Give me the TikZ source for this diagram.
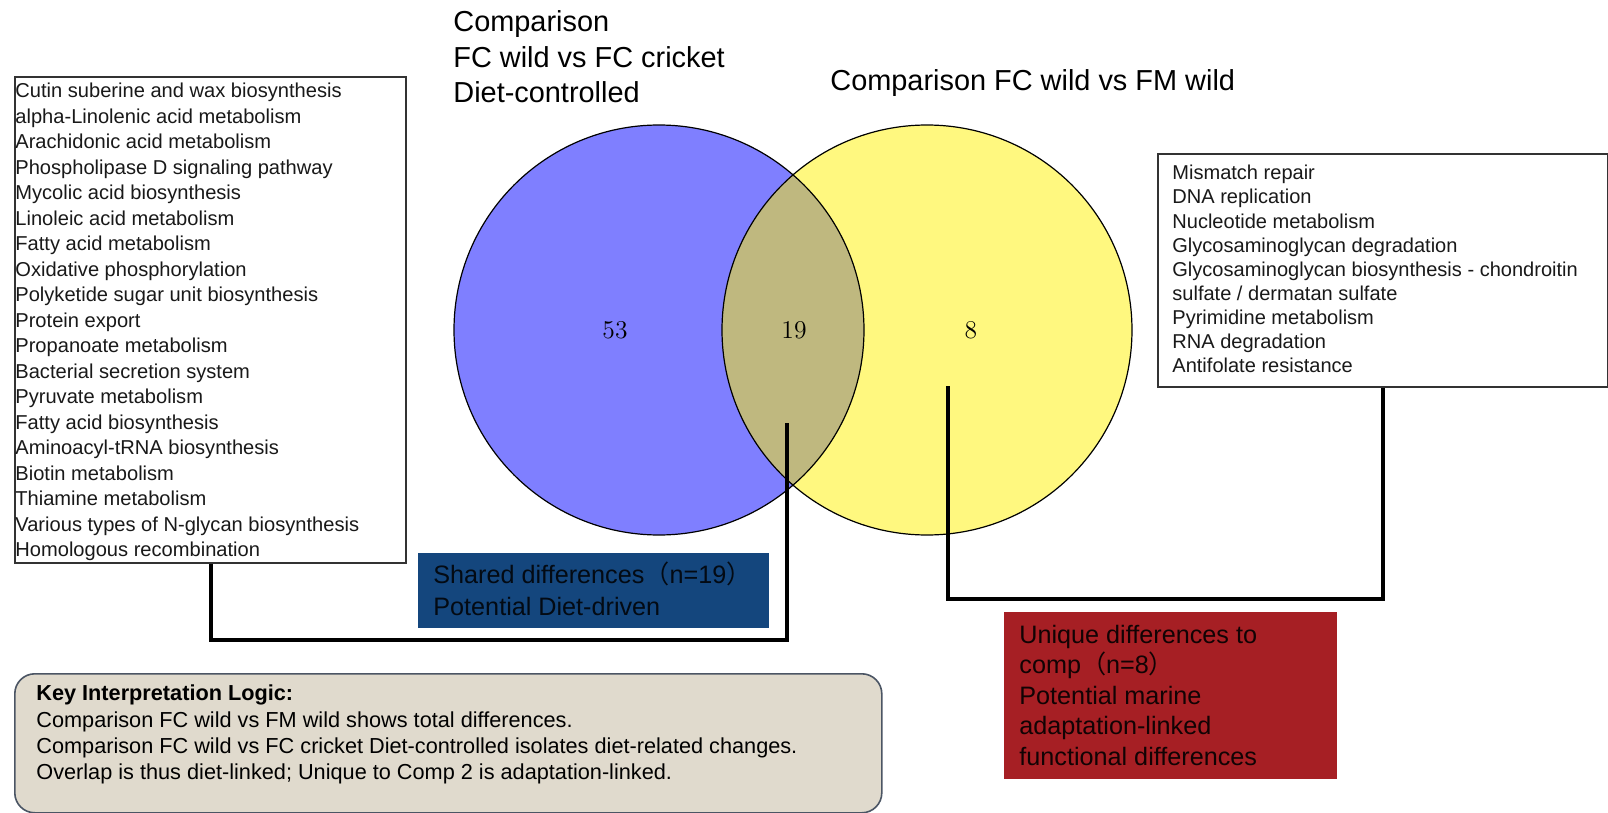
\documentclass[tikz,border=0pt]{standalone}
\usepackage{fontspec}
\newfontfamily\arial{Liberation Sans}
\newfontfamily\cjkfont{Noto Sans CJK SC}
\definecolor{sharedfill}{RGB}{20,70,125}
\definecolor{uniquefill}{RGB}{166,31,36}
\definecolor{keyfill}{RGB}{224,218,205}
\definecolor{keydraw}{RGB}{75,85,100}
\newcommand{\lp}{{\cjkfont （}}
\newcommand{\rp}{{\cjkfont ）}}
\begin{document}
\begin{tikzpicture}[x=0.5pt,y=-0.5pt,
  txt/.style={anchor=north west, inner sep=0pt, align=left},
  listbox/.style={draw=black!80, line width=1pt, fill=white, anchor=north west, inner sep=0pt},
  tagbox/.style={anchor=north west, inner sep=0pt},
  conn/.style={line width=2pt, line join=miter},
  vennline/.style={draw=black, line width=0.6pt},
  numlabel/.style={font=\fontsize{12.8pt}{14pt}\selectfont, inner sep=0pt}
]
\useasboundingbox (0,0) rectangle (1608,813);

% Venn sets
\node[circle, minimum size=205pt, inner sep=0pt, fill=blue, fill opacity=0.5] (setA) at (659,330) {};
\node[circle, minimum size=205pt, inner sep=0pt, fill=yellow, fill opacity=0.5] (setB) at (927,330) {};
\draw[vennline] (setA.center) circle[radius=102.5pt];
\draw[vennline] (setB.center) circle[radius=102.5pt];
\node[numlabel] (n53) at (615,330) {53};
\node[numlabel] (n19) at (794,330) {19};
\node[numlabel] (n8) at (971,330) {8};

% titles
\node[txt, font=\arial\fontsize{14.45pt}{17.6pt}\selectfont] (titleA) at (453,2.6)
  {\rule{0pt}{1em}Comparison\\FC wild vs FC cricket\\Diet-controlled};
\node[anchor=base west, inner sep=0pt, font=\arial\fontsize{14.45pt}{17.6pt}\selectfont] (titleB) at (830,90.5)
  {Comparison FC wild vs FM wild};

% left list
\node[listbox, minimum width=195.5pt, minimum height=243pt] (lbox) at (14,76) {};
\node[txt, font=\arial\fontsize{10.05pt}{12.75pt}\selectfont, text=black!90] (ltext) at (15,77.2)
  {\rule{0pt}{1em}Cutin suberine and wax biosynthesis\\
   alpha-Linolenic acid metabolism\\
   Arachidonic acid metabolism\\
   Phospholipase D signaling pathway\\
   Mycolic acid biosynthesis\\
   Linoleic acid metabolism\\
   Fatty acid metabolism\\
   Oxidative phosphorylation\\
   Polyketide sugar unit biosynthesis\\
   Protein export\\
   Propanoate metabolism\\
   Bacterial secretion system\\
   Pyruvate metabolism\\
   Fatty acid biosynthesis\\
   Aminoacyl-tRNA biosynthesis\\
   Biotin metabolism\\
   Thiamine metabolism\\
   Various types of N-glycan biosynthesis\\
   Homologous recombination};

% right list
\node[listbox, minimum width=225pt, minimum height=116.5pt] (rbox) at (1157,153) {};
\node[txt, font=\arial\fontsize{10.02pt}{12.05pt}\selectfont, text=black!90] (rtext) at (1172,159.4)
  {\rule{0pt}{1em}Mismatch repair\\
   DNA replication\\
   Nucleotide metabolism\\
   Glycosaminoglycan degradation\\
   Glycosaminoglycan biosynthesis - chondroitin\\
   sulfate / dermatan sulfate\\
   Pyrimidine metabolism\\
   RNA degradation\\
   Antifolate resistance};

% shared box
\node[tagbox, fill=sharedfill, minimum width=175.5pt, minimum height=37.5pt] (sbox) at (418,553) {};
\node[txt, font=\arial\fontsize{12.6pt}{16pt}\selectfont, text=black!85!sharedfill] (stext) at (433,558)
  {\rule{0pt}{1em}Shared differences\lp n=19\rp\\Potential Diet-driven};

% unique box
\node[tagbox, fill=uniquefill, minimum width=166.5pt, minimum height=83.5pt] (ubox) at (1004,612) {};
\node[txt, font=\arial\fontsize{12.6pt}{15.25pt}\selectfont, text=black!90!uniquefill] (utext) at (1019,617.8)
  {\rule{0pt}{1em}Unique differences to\\comp\lp n=8\rp\\Potential marine\\adaptation-linked\\functional differences};

% key box
\node[tagbox, draw=keydraw, line width=0.8pt, fill=keyfill, rounded corners=10pt,
      minimum width=433.5pt, minimum height=69.5pt] (kbox) at (14,673) {};
\node[txt, font=\arial\fontsize{10.85pt}{13.2pt}\selectfont] (ktext) at (36,678.5)
  {\rule{0pt}{1em}\textbf{Key Interpretation Logic:}\\
   Comparison FC wild vs FM wild shows total differences.\\
   Comparison FC wild vs FC cricket Diet-controlled isolates diet-related changes.\\
   Overlap is thus diet-linked; Unique to Comp 2 is adaptation-linked.};

% connectors
\coordinate (p19) at (787,423);
\coordinate (p8) at (948,386);
\draw[conn] (lbox.south) -- ++(0,76) -| (p19);
\draw[conn] (p8) -- ++(0,213) -| (rbox.south);
\end{tikzpicture}
\end{document}
